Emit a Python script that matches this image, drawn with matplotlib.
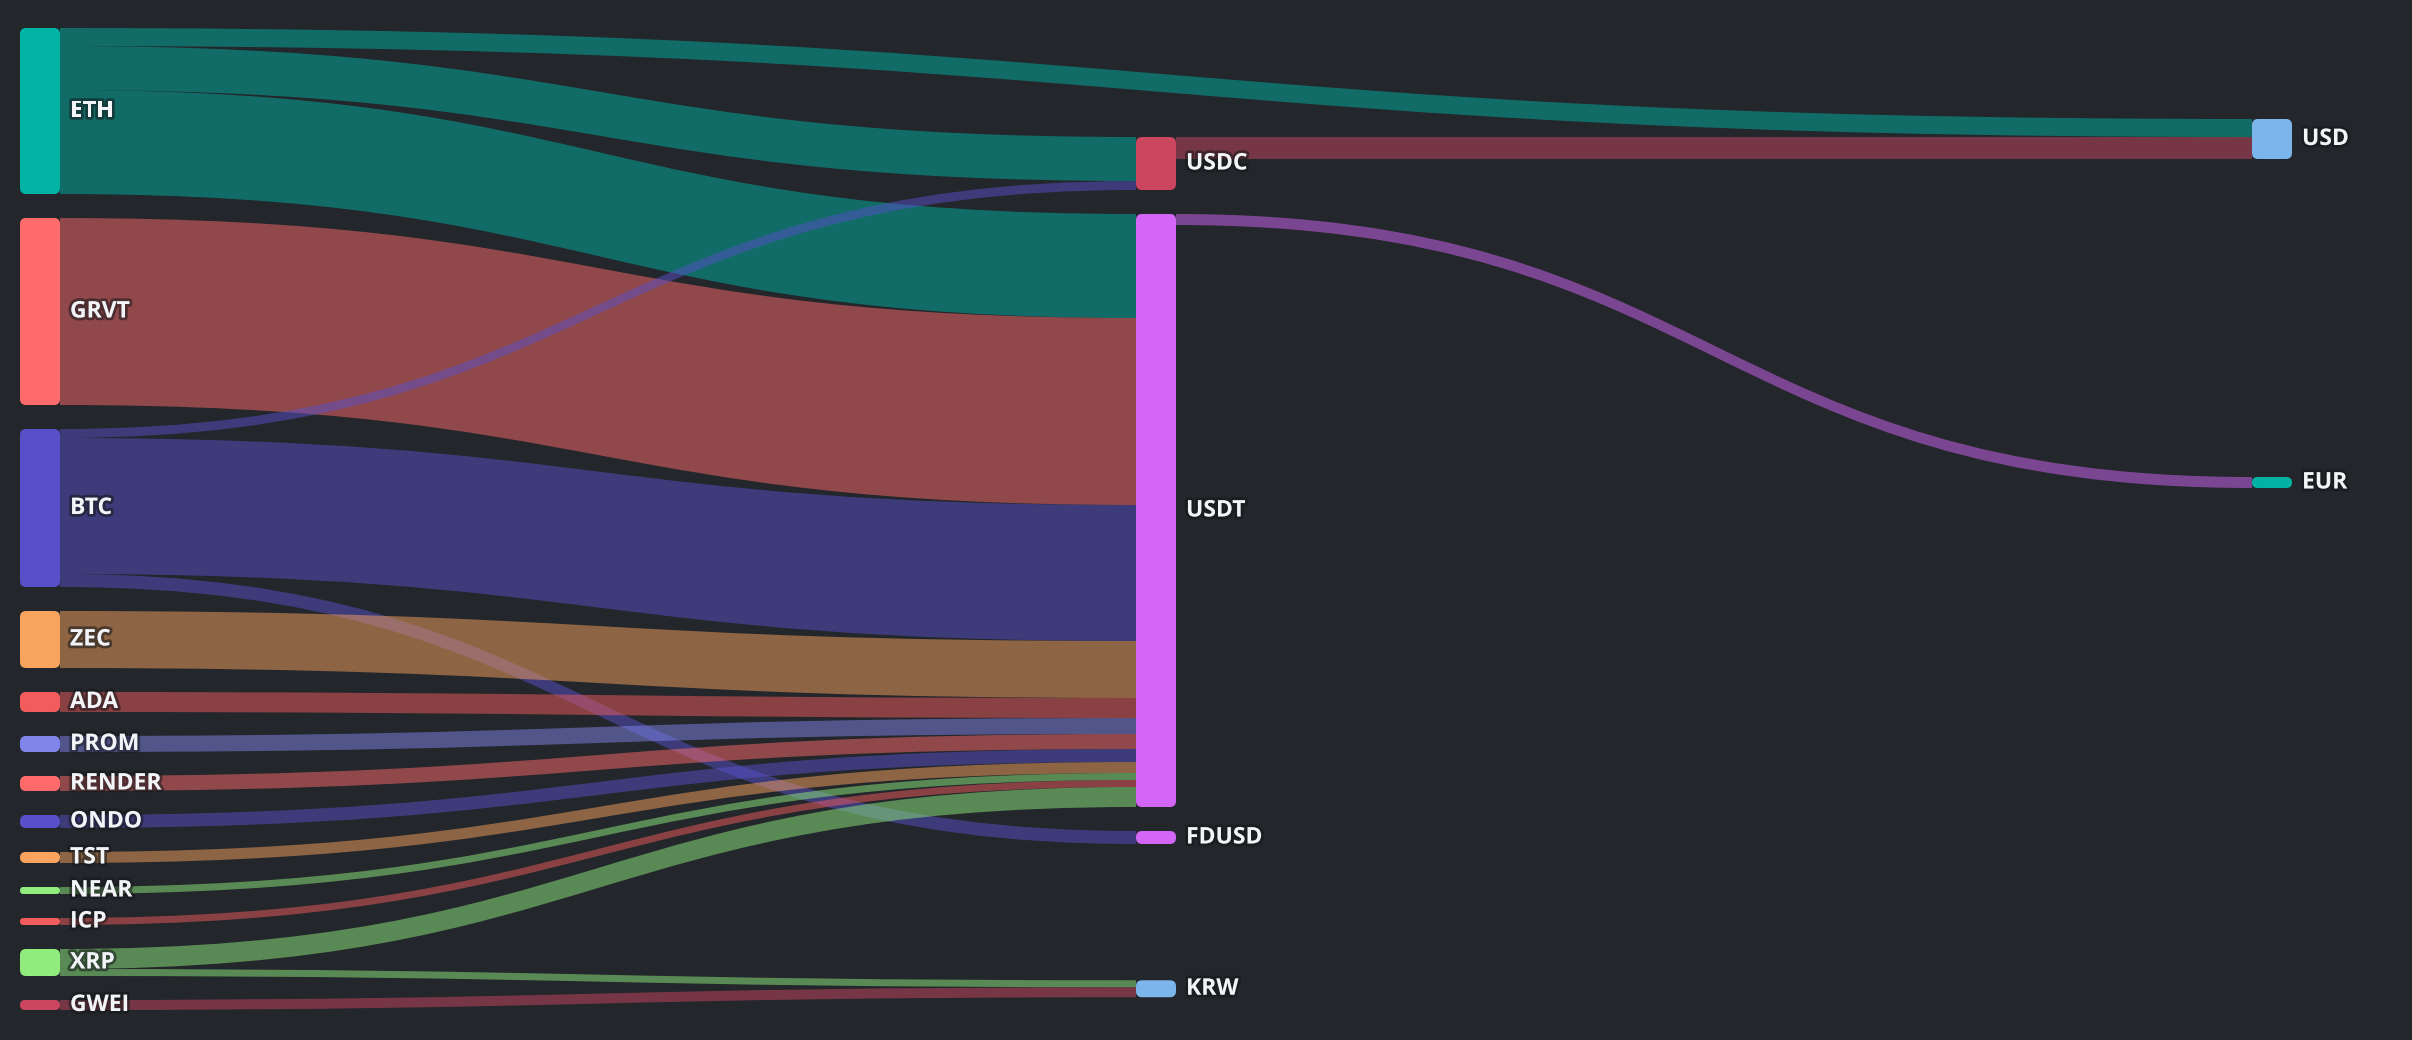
import numpy as np
import matplotlib
matplotlib.use('Agg')
import matplotlib.pyplot as plt
from matplotlib.patches import FancyBboxPatch, PathPatch
from matplotlib.path import Path
import matplotlib.patheffects as pe

# --- data -------------------------------------------------------------------
SOURCES = ['ETH', 'GRVT', 'BTC', 'ZEC', 'ADA', 'PROM', 'RENDER', 'ONDO',
           'TST', 'NEAR', 'ICP', 'XRP', 'GWEI']
MIDDLE = ['USDC', 'USDT', 'FDUSD', 'KRW']
FIAT = ['USD', 'EUR']

LINK_FROM = ['ETH', 'ETH', 'ETH', 'GRVT', 'BTC', 'BTC', 'BTC', 'ZEC', 'ADA',
             'PROM', 'RENDER', 'ONDO', 'TST', 'NEAR', 'ICP', 'XRP', 'XRP',
             'GWEI', 'USDC', 'USDT']
LINK_TO = ['USD', 'USDC', 'USDT', 'USDT', 'USDC', 'USDT', 'FDUSD', 'USDT',
           'USDT', 'USDT', 'USDT', 'USDT', 'USDT', 'USDT', 'USDT', 'USDT',
           'KRW', 'KRW', 'USD', 'EUR']
LINK_VALUE = [18, 44, 104, 187, 9, 136, 13, 57, 20, 16, 15, 13, 11, 7, 7,
              20, 7, 10, 22, 11]

# --- style / layout ---------------------------------------------------------
BG = '#23262b'
COLORS = {
    'ETH': '#00b3a4', 'GRVT': '#ff6b6b', 'BTC': '#5850c8', 'ZEC': '#f8a35e',
    'ADA': '#f25c5c', 'PROM': '#8085e9', 'RENDER': '#ff6b6b', 'ONDO': '#5850c8',
    'TST': '#f8a35e', 'NEAR': '#90ed7d', 'ICP': '#f25c5c', 'XRP': '#90ed7d',
    'GWEI': '#cc4660', 'USDC': '#cc4660', 'USDT': '#d466f7', 'FDUSD': '#d466f7',
    'KRW': '#7cb5ec', 'USD': '#7cb5ec', 'EUR': '#00b3a4',
}
W, H = 2412, 1040
NODE_W = 40
PAD = 24
COL_X = [20, 1136, 2252]
LEFT_TOP = 28
MID_TOP = 137
EUR_TOP = 477
KY = 1.0  # pixels per unit


def node_size(name):
    inc = sum(v for f, t, v in zip(LINK_FROM, LINK_TO, LINK_VALUE) if t == name)
    out = sum(v for f, t, v in zip(LINK_FROM, LINK_TO, LINK_VALUE) if f == name)
    return max(inc, out) * KY


nodes = {}
# left column: plain stack
y = LEFT_TOP
for n in SOURCES:
    h = node_size(n)
    nodes[n] = dict(x=COL_X[0], y=y, h=h)
    y += h + PAD
# middle column: stablecoins stacked, KRW sits between its sources
y = MID_TOP
for n in ['USDC', 'USDT', 'FDUSD']:
    h = node_size(n)
    nodes[n] = dict(x=COL_X[1], y=y, h=h)
    y += h + PAD


def out_offsets(name):
    links = [i for i, f in enumerate(LINK_FROM) if f == name]
    links.sort(key=lambda i: nodes[LINK_TO[i]]['y'] if LINK_TO[i] in nodes else 1e9)
    res, off = {}, 0
    for i in links:
        res[i] = off
        off += LINK_VALUE[i] * KY
    return res


krw_links = [i for i, t in enumerate(LINK_TO) if t == 'KRW']
centres = []
for i in krw_links:
    src = LINK_FROM[i]
    o = out_offsets(src)[i]
    centres.append(nodes[src]['y'] + o + LINK_VALUE[i] * KY / 2)
kc = np.mean(centres)
hk = node_size('KRW')
nodes['KRW'] = dict(x=COL_X[1], y=kc - hk / 2, h=hk)

# right column: USD lines up flat with the USDC link, EUR placed lower
usd_in = sorted([i for i, t in enumerate(LINK_TO) if t == 'USD'],
                key=lambda i: nodes[LINK_FROM[i]]['y'])
pre = sum(LINK_VALUE[i] * KY for i in usd_in if LINK_FROM[i] != 'USDC')
nodes['USD'] = dict(x=COL_X[2], y=nodes['USDC']['y'] - pre, h=node_size('USD'))
nodes['EUR'] = dict(x=COL_X[2], y=EUR_TOP, h=node_size('EUR'))

# link offsets at both ends
src_off, dst_off = {}, {}
for n in nodes:
    outs = sorted([i for i, f in enumerate(LINK_FROM) if f == n],
                  key=lambda i: nodes[LINK_TO[i]]['y'])
    off = 0
    for i in outs:
        src_off[i] = off
        off += LINK_VALUE[i] * KY
    ins = sorted([i for i, t in enumerate(LINK_TO) if t == n],
                 key=lambda i: nodes[LINK_FROM[i]]['y'])
    off = 0
    for i in ins:
        dst_off[i] = off
        off += LINK_VALUE[i] * KY

# --- figure -----------------------------------------------------------------
fig = plt.figure(figsize=(W / 100, H / 100), dpi=100, facecolor=BG)
ax = fig.add_axes([0, 0, 1, 1])
ax.set_facecolor(BG)
ax.set_xlim(0, W)
ax.set_ylim(H, 0)
ax.axis('off')

for i, (f, t, v) in enumerate(zip(LINK_FROM, LINK_TO, LINK_VALUE)):
    s, d = nodes[f], nodes[t]
    x0 = s['x'] + NODE_W
    x1 = d['x']
    w = v * KY
    y0 = s['y'] + src_off[i]
    y1 = d['y'] + dst_off[i]
    xm = (x0 + x1) / 2
    verts = [(x0, y0), (xm, y0), (xm, y1), (x1, y1),
             (x1, y1 + w), (xm, y1 + w), (xm, y0 + w), (x0, y0 + w), (x0, y0)]
    codes = [Path.MOVETO, Path.CURVE4, Path.CURVE4, Path.CURVE4,
             Path.LINETO, Path.CURVE4, Path.CURVE4, Path.CURVE4, Path.CLOSEPOLY]
    ax.add_patch(PathPatch(Path(verts, codes), facecolor=COLORS[f],
                           alpha=0.5, edgecolor='none', zorder=1))

shadow = [pe.withStroke(linewidth=4, foreground='#15171a', alpha=0.55)]
for n, nd in nodes.items():
    r = min(6, nd['h'] / 2)
    ax.add_patch(FancyBboxPatch((nd['x'], nd['y']), NODE_W, nd['h'],
                                boxstyle=f'round,pad=0,rounding_size={r}',
                                facecolor=COLORS[n], edgecolor='none', zorder=3,
                                mutation_aspect=1))
    ax.text(nd['x'] + NODE_W + 10, nd['y'] + nd['h'] / 2, n,
            ha='left', va='center', color='#f2f4f8', fontsize=16.5,
            fontweight='bold', family=['Open Sans', 'DejaVu Sans'],
            zorder=4, path_effects=shadow)

fig.savefig('out.png', dpi=100, facecolor=BG)
